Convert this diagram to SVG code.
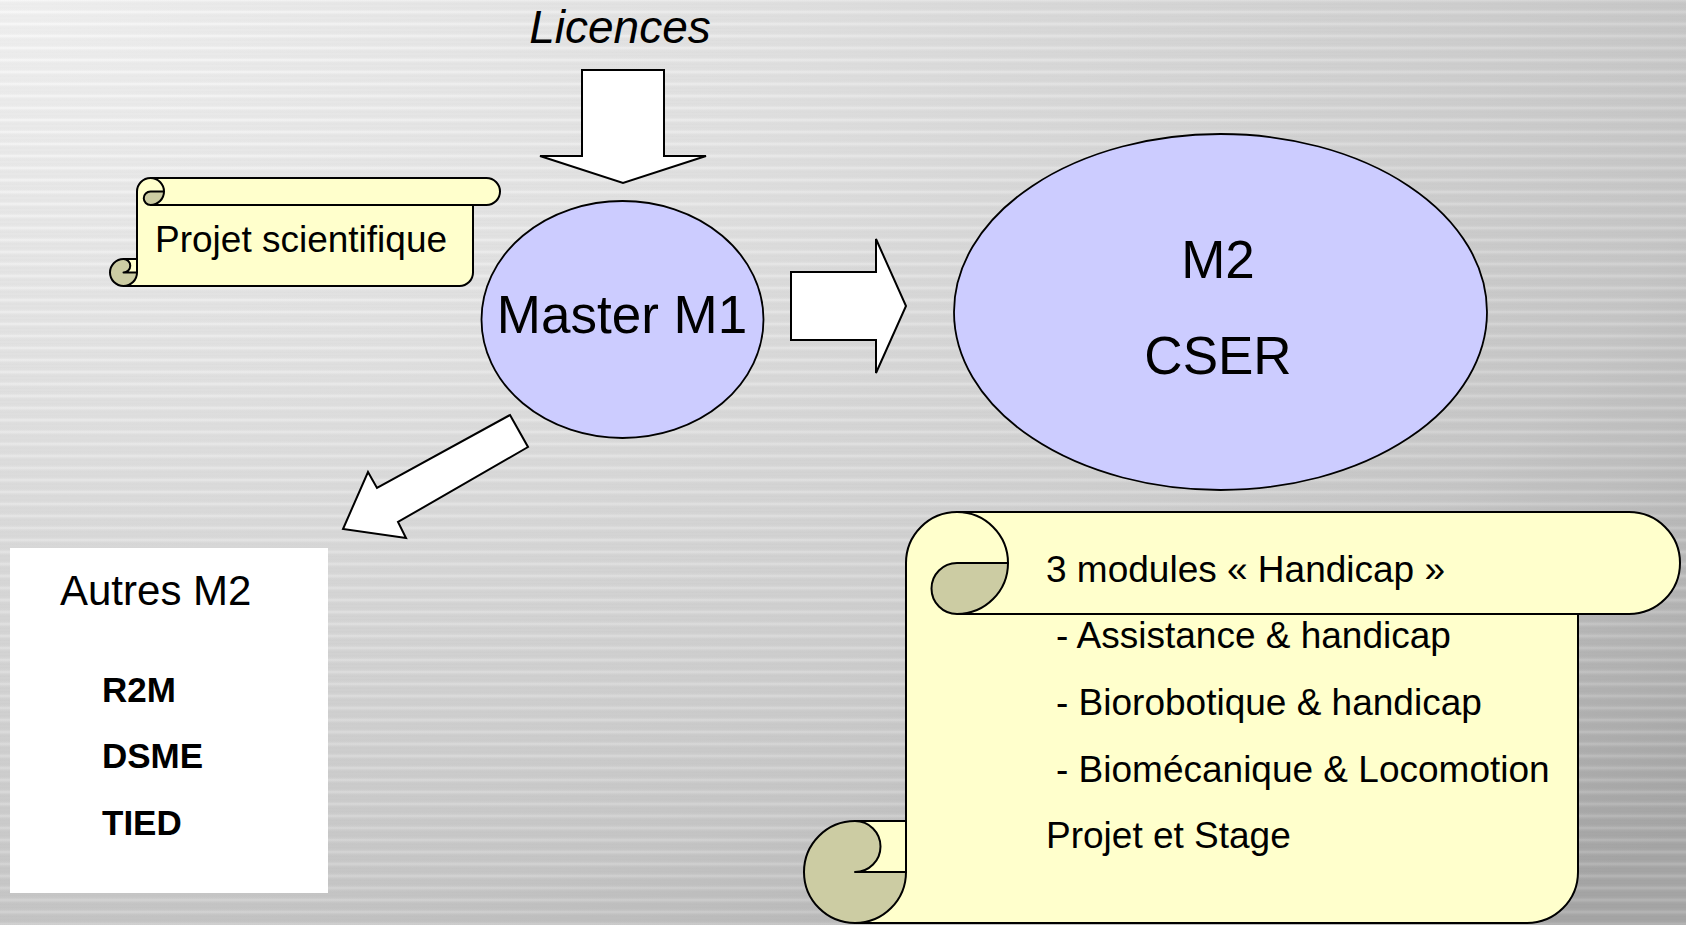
<svg xmlns="http://www.w3.org/2000/svg" width="1686" height="925" viewBox="0 0 1686 925">
  <defs>
    <radialGradient id="bg" gradientUnits="userSpaceOnUse" cx="0" cy="0" r="2300" gradientTransform="scale(1,0.53)">
      <stop offset="0" stop-color="#f8f8f8"/>
      <stop offset="0.33" stop-color="#e8e8e8"/>
      <stop offset="0.65" stop-color="#d4d4d4"/>
      <stop offset="0.75" stop-color="#cccccc"/>
      <stop offset="0.97" stop-color="#adadad"/>
      <stop offset="1" stop-color="#aaaaaa"/>
    </radialGradient>
    <linearGradient id="stripeGrad" x1="0" y1="0" x2="0" y2="1">
      <stop offset="0" stop-color="#ffffff" stop-opacity="0.14"/>
      <stop offset="0.5" stop-color="#000000" stop-opacity="0.035"/>
      <stop offset="1" stop-color="#ffffff" stop-opacity="0.14"/>
    </linearGradient>
    <pattern id="stripes" patternUnits="userSpaceOnUse" width="1686" height="12">
      <rect x="0" y="0" width="1686" height="12" fill="url(#stripeGrad)"/>
    </pattern>
  </defs>
  <style>
    .txt { font-family: "Liberation Sans", Arial, sans-serif; fill: #000; }
    .ell { fill: #ccccff; stroke: #000; stroke-width: 1.8; }
    .arrow { fill: #ffffff; stroke: #000; stroke-width: 2; stroke-linejoin: miter; }
    .scrollFill { fill: #ffffcc; stroke: none; }
    .scrollDark { fill: #cccca3; stroke: none; }
    .scrollLine { fill: none; stroke: #000; stroke-width: 2; stroke-linejoin: round; }
  </style>

  <rect x="0" y="0" width="1686" height="925" fill="url(#bg)"/>
  <rect x="0" y="0" width="1686" height="925" fill="url(#stripes)"/>

  <g id="connectors">
    <polygon class="arrow" points="582,70 664,70 664,156 706,156 623,183 540,156 582,156"/>
    <polygon class="arrow" points="791,272 876,272 876,239 906,306 876,373 876,340 791,340"/>
    <polygon class="arrow" points="510,415 528,447 398,522 406,538 343,529 368,472 377,488"/>
  </g>

  <g id="licences">
    <text class="txt" x="620" y="43" font-size="46" font-style="italic" text-anchor="middle">Licences</text>
  </g>

  <g id="projet-scientifique">
    <path class="scrollFill" d="M137 259 L137 191.5 A13.5 13.5 0 0 1 150.5 178 L486.5 178 A13.5 13.5 0 0 1 486.5 205 L473 205 L473 272.5 A13.5 13.5 0 0 1 459.5 286 L123.5 286 A13.5 13.5 0 0 1 123.5 259 Z"/>
    <path class="scrollDark" d="M164 191.5 A13.5 13.5 0 0 1 150.5 205 A6.75 6.75 0 0 1 150.5 191.5 Z M137 272.5 A13.5 13.5 0 1 1 123.5 259 A6.75 6.75 0 0 1 123.5 272.5 Z"/>
    <path class="scrollLine" d="M137 259 L137 191.5 A13.5 13.5 0 0 1 150.5 178 L486.5 178 A13.5 13.5 0 0 1 486.5 205 L473 205 L473 272.5 A13.5 13.5 0 0 1 459.5 286 L123.5 286 A13.5 13.5 0 0 1 123.5 259 Z M150.5 178 A13.5 13.5 0 0 1 150.5 205 A6.75 6.75 0 0 1 150.5 191.5 L164 191.5 M473 205 L150.5 205 M123.5 259 A6.75 6.75 0 0 1 123.5 272.5 L137 272.5 M123.5 286 A13.5 13.5 0 0 0 137 272.5 L137 259"/>
    <text class="txt" x="155" y="252" font-size="37">Projet scientifique</text>
  </g>

  <g id="master-m1">
    <ellipse class="ell" cx="622.5" cy="319.5" rx="141" ry="118.5"/>
    <text class="txt" x="622" y="333" font-size="53" text-anchor="middle">Master M1</text>
  </g>

  <g id="m2-cser">
    <ellipse class="ell" cx="1220.5" cy="312" rx="266.5" ry="178"/>
    <text class="txt" x="1218" y="278" font-size="53" text-anchor="middle">M2</text>
    <text class="txt" x="1218" y="374" font-size="53" text-anchor="middle">CSER</text>
  </g>

  <g id="autres-m2">
    <rect x="10" y="548" width="318" height="345" fill="#ffffff"/>
    <text class="txt" x="60" y="605" font-size="42">Autres M2</text>
    <text class="txt" x="102" y="702" font-size="35" font-weight="bold">R2M</text>
    <text class="txt" x="102" y="768" font-size="35" font-weight="bold">DSME</text>
    <text class="txt" x="102" y="835" font-size="35" font-weight="bold">TIED</text>
  </g>

  <g id="modules-scroll">
    <path class="scrollFill" d="M906 821 L906 563 A51 51 0 0 1 957 512 L1629 512 A51 51 0 0 1 1629 614 L1578 614 L1578 872 A51 51 0 0 1 1527 923 L855 923 A51 51 0 0 1 855 821 Z"/>
    <path class="scrollDark" d="M1008 563 A51 51 0 0 1 957 614 A25.5 25.5 0 0 1 957 563 Z M906 872 A51 51 0 1 1 855 821 A25.5 25.5 0 0 1 855 872 Z"/>
    <path class="scrollLine" d="M906 821 L906 563 A51 51 0 0 1 957 512 L1629 512 A51 51 0 0 1 1629 614 L1578 614 L1578 872 A51 51 0 0 1 1527 923 L855 923 A51 51 0 0 1 855 821 Z M957 512 A51 51 0 0 1 957 614 A25.5 25.5 0 0 1 957 563 L1008 563 M1578 614 L957 614 M855 821 A25.5 25.5 0 0 1 855 872 L906 872 M855 923 A51 51 0 0 0 906 872 L906 821"/>
    <text class="txt" x="1046" y="582" font-size="37">3 modules « Handicap »</text>
    <text class="txt" x="1056" y="648" font-size="37">- Assistance &amp; handicap</text>
    <text class="txt" x="1056" y="715" font-size="37">- Biorobotique &amp; handicap</text>
    <text class="txt" x="1056" y="782" font-size="37">- Biomécanique &amp; Locomotion</text>
    <text class="txt" x="1046" y="848" font-size="37">Projet et Stage</text>
  </g>
</svg>
